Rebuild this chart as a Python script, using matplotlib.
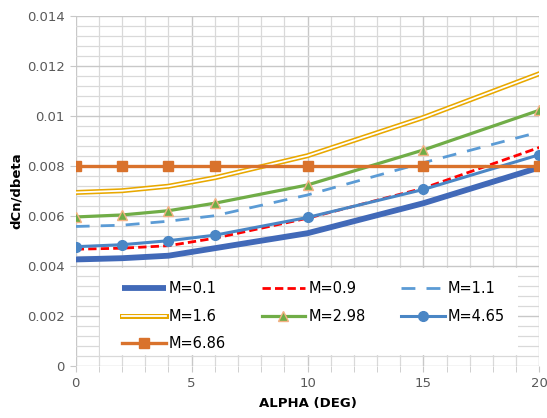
import matplotlib.pyplot as plt
import matplotlib.patheffects as pe
from matplotlib.patches import Rectangle
from matplotlib.ticker import MultipleLocator, FuncFormatter

alpha = [0, 2, 4, 6, 10, 15, 20]

m01 = [0.00425, 0.00430, 0.00440, 0.00470, 0.00530, 0.00650, 0.00793]
m09 = [0.00466, 0.00470, 0.00480, 0.00510, 0.00590, 0.00710, 0.00873]
m11 = [0.00557, 0.00562, 0.00578, 0.00600, 0.00683, 0.00812, 0.00935]
m16 = [0.00693, 0.00700, 0.00718, 0.00752, 0.00840, 0.00993, 0.01168]
m298 = [0.00595, 0.00603, 0.00620, 0.00650, 0.00723, 0.00863, 0.01022]
m465 = [0.00476, 0.00484, 0.00500, 0.00522, 0.00593, 0.00705, 0.00844]
m686 = [0.0080, 0.0080, 0.0080, 0.0080, 0.0080, 0.0080, 0.0080]

fig = plt.figure(figsize=(5.47, 4.18), dpi=100)
ax = fig.add_axes([0.1384, 0.1251, 0.8476, 0.8373])

h01, = ax.plot(alpha, m01, color='#4169B8', lw=4.2, label='M=0.1', solid_capstyle='butt')
h09, = ax.plot(alpha, m09, color='#FF0000', lw=2, ls=(0, (3, 1.5)), label='M=0.9')
h11, = ax.plot(alpha, m11, color='#5B9BD5', lw=2, ls=(0, (5, 4)), label='M=1.1')
h16, = ax.plot(alpha, m16, color='white', lw=1.3, label='M=1.6',
               path_effects=[pe.Stroke(linewidth=3.6, foreground='#E8A800'), pe.Normal()])
h298, = ax.plot(alpha, m298, color='#70AD47', lw=2.3, marker='^', ms=7,
                mfc='#70AD47', mec='#F4B183', mew=1, label='M=2.98')
h465, = ax.plot(alpha, m465, color='#4A86C5', lw=2.2, marker='o', ms=7,
                mfc='#4A86C5', mec='#4A86C5', label='M=4.65')
h686, = ax.plot(alpha, m686, color='#D9722C', lw=2.4, marker='s', ms=7,
                mfc='#D9722C', mec='#D9722C', label='M=6.86')

ax.set_xlim(0, 20)
ax.set_ylim(0, 0.014)
ax.xaxis.set_major_locator(MultipleLocator(5))
ax.xaxis.set_minor_locator(MultipleLocator(1))
ax.yaxis.set_major_locator(MultipleLocator(0.002))
ax.yaxis.set_minor_locator(MultipleLocator(0.0004))
ax.yaxis.set_major_formatter(FuncFormatter(lambda v, p: '%g' % round(v, 4)))

ax.grid(True, which='major', color='#c8c8c8', lw=1)
ax.grid(True, which='minor', color='#d9d9d9', lw=0.9)
ax.set_axisbelow(True)
for s in ax.spines.values():
    s.set_visible(False)
ax.tick_params(which='both', colors='#c8c8c8', labelcolor='#595959', labelsize=9.5)
ax.tick_params(axis='x', which='both', length=4, pad=4)
ax.tick_params(axis='y', which='major', length=4, pad=4)
ax.tick_params(axis='y', which='minor', length=0)

ax.set_xlabel('ALPHA (DEG)', fontsize=9.5, fontweight='bold', labelpad=5)
ax.set_ylabel('dCn/dbeta', fontsize=9.5, fontweight='bold', labelpad=3)

# white area behind the legend
ax.add_patch(Rectangle((0.052, 0.031), 0.902, 0.248, transform=ax.transAxes,
                       facecolor='white', edgecolor='none', zorder=2.5))

handles = [h01, h16, h686, h09, h298, h11, h465]
leg = ax.legend(handles=handles, ncol=3, loc='upper left',
                bbox_to_anchor=(0.0999, 0.241), frameon=False,
                fontsize=10.5, handlelength=3.0, handletextpad=0.2,
                labelspacing=0.84, columnspacing=2.45, borderpad=0,
                borderaxespad=0)
leg.set_zorder(5)

fig.savefig('out.png', dpi=100)
